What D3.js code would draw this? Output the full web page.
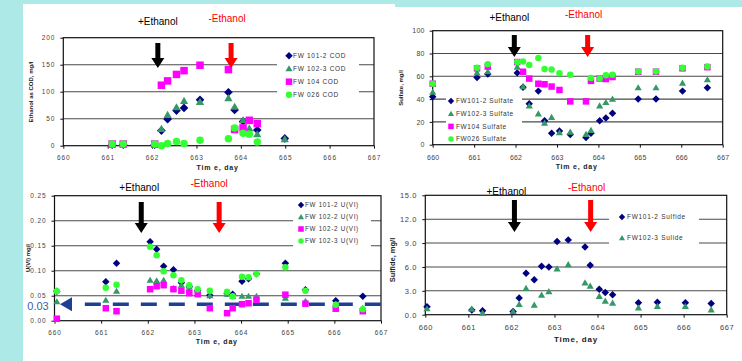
<!DOCTYPE html>
<html>
<head>
<meta charset="utf-8">
<script src="https://cdn.jsdelivr.net/npm/d3@7"></script>
<style>
  body { margin: 0; background: #fff; }
  svg { display: block; font-family: "Liberation Sans", Arial, sans-serif; }
</style>
</head>
<body>
<svg id="chart" width="742" height="361"></svg>
<script>
// ---- data ----
const xTicks = [660, 661, 662, 663, 664, 665, 666, 667];

// Ethanol as COD
const codDays = [661.1, 661.35, 662.06, 662.21, 662.35, 662.55, 662.72, 663.08, 663.72, 663.86, 664.05, 664.19, 664.37, 664.99];
const cod1012 = [2, 2, 2, 28, 49, 65, 70, 85, 99, 66, 45, null, 29, 13.5];
const cod1023 = [null, null, null, 31, 57, 71, 83, 81, 88, 72, 47, 32, 21, 12];
const cod104 = [3, 3, 3, 112, 120, 132, 139, 149, 141, 30, 33, 47, 41, null];
const cod026 = [3, 3, 3, 0, 4, 8, 4, 10, 13, 33, 23, 21, 7, null];
const codTicks = [0, 50, 100, 150, 200];

// Sulfate
const sulDays = [660.0, 661.07, 661.33, 662.04, 662.18, 662.33, 662.55, 662.7, 662.87, 663.06, 663.32, 663.7, 663.82, 664.03, 664.18, 664.34, 664.96, 665.39, 666.03, 666.63];
const sul1012 = [42, 59, 62, 63, 50.3, 36, 47, 21, 10, 12, 9, 6.4, 10, 21, 23.4, 27.5, 40, 40, 47, 50];
const sul1023 = [46, 63, 64, 68, 51, 34, 27, 19, 24, 10.5, 11, 9, 12.6, 34, 37, 40, 50, 50, 54, 57];
const sul104 = [53.5, 67, 68.5, 72.5, 64, 58, 53.5, 53, 51, 48, 38, 38, 56, 58, 57.6, 59.4, 64, 64, 67, 68];
const sul026 = [53.5, 67.5, 70.5, 72.5, 73, 70, 76, 66.4, 66, 62.6, 61.4, null, 58.5, 58, 61, 61.4, 64.3, 64.3, 67.5, 68.7];
const sulTicks = [0, 20, 40, 60, 80, 100];

// U(VI)
const uDays = [660.05, 661.1, 661.33, 662.05, 662.19, 662.34, 662.55, 662.72, 662.89, 663.07, 663.33, 663.7, 663.82, 664.02, 664.16, 664.33, 664.95, 665.38, 666.03, 666.61];
const u1012 = [0.059, 0.078, 0.115, 0.158, 0.143, 0.109, 0.102, 0.076, 0.068, 0.06, 0.051, 0.055, 0.053, 0.079, 0.084, 0.094, 0.115, 0.062, 0.04, 0.049];
const u1022tri = [0.038, 0.041, 0.059, 0.081, 0.08, 0.081, 0.065, 0.071, 0.067, 0.055, 0.05, 0.053, 0.049, 0.049, 0.049, 0.049, 0.045, 0.039, 0.033, 0.025];
const u1022sq = [0.004, 0.025, 0.019, 0.063, 0.069, 0.071, 0.063, 0.06, 0.055, 0.053, 0.025, 0.015, 0.025, 0.033, 0.035, 0.042, 0.052, 0.034, 0.024, 0.019];
const u1023 = [0.059, 0.066, 0.072, 0.148, 0.131, 0.099, 0.091, 0.081, 0.071, 0.063, 0.06, 0.058, 0.049, 0.088, 0.087, 0.094, 0.107, 0.06, 0.032, 0.023];
const uTicks = [0, 0.05, 0.10, 0.15, 0.20, 0.25];
const uLimit = 0.033;
const uLimitDays = [660.65, 667];

// Sulfide
const sfdDays = [660.04, 661.08, 661.33, 662.04, 662.18, 662.34, 662.53, 662.7, 662.87, 663.06, 663.32, 663.71, 663.83, 664.04, 664.18, 664.35, 664.95, 665.39, 666.04, 666.64];
const sfd1012 = [1.0, 0.6, 0.5, 0.4, 2.1, 5.2, 4.4, 6.1, 6.0, 9.2, 9.4, 8.5, 6.2, 3.2, 2.8, 2.5, 1.5, 1.55, 1.5, 1.4];
const sfd1023 = [0.75, 0.7, 0.2, 0.4, 1.3, 3.3, 1.2, 2.45, 2.9, 5.75, 6.3, 4.0, 3.6, 2.3, 1.7, 1.45, 0.85, 1.05, 1.05, 0.6];
const sfdTicks = [0, 3, 6, 9, 12, 15];

// ethanol on / off days per panel
const ethanolOn = [662.13, 661.97, 661.86, 662.07];
const ethanolOff = [663.78, 663.74, 663.53, 663.84];

// ---- styles ----
const NAVY = "#000080", SEA = "#339966", MAG = "#ff00ff", LIME = "#33ff33";

const svg = d3.select("#chart");

// background frame (slide)
svg.append("rect").attr("width", 742).attr("height", 361).attr("fill", "#fff");
svg.append("rect").attr("width", 23).attr("height", 361).attr("fill", "#ade9e6");
svg.append("rect").attr("width", 395).attr("height", 4).attr("fill", "#ade9e6");
svg.append("rect").attr("x", 395).attr("width", 347).attr("height", 7).attr("fill", "#ade9e6");

function marker(g, type, size, color) {
  const h = size / 2;
  if (type === "diamond") {
    const r = h * 1.15;
    g.append("path").attr("d", `M0,${-r} L${r},0 L0,${r} L${-r},0 Z`).attr("fill", color);
  } else if (type === "triangle") {
    g.append("path").attr("d", `M0,${-h * 1.1} L${h * 1.1},${h * 0.8} L${-h * 1.1},${h * 0.8} Z`).attr("fill", color);
  } else if (type === "square") {
    g.append("rect").attr("x", -h).attr("y", -h).attr("width", size).attr("height", size).attr("fill", color);
  } else {
    g.append("circle").attr("r", h).attr("fill", color);
  }
}

function arrow(g, x, y1, y2, color) {
  g.append("path")
    .attr("d", `M${x - 2.5},${y1} H${x + 2.5} V${y2 - 10} H${x + 6.5} L${x},${y2} L${x - 6.5},${y2 - 10} H${x - 2.5} Z`)
    .attr("fill", color);
}

function panel(cfg) {
  const x = d3.scaleLinear().domain([660, 667]).range(cfg.xr);
  const y = d3.scaleLinear().domain([cfg.yTicks[0], cfg.yTicks[cfg.yTicks.length - 1]]).range(cfg.yr);
  const g = svg.append("g");
  const fs = cfg.fs || 6.5;

  // gridlines
  g.selectAll(".grid").data(cfg.yTicks.slice(1, -1)).join("line")
    .attr("x1", cfg.xr[0]).attr("x2", cfg.xr[1])
    .attr("y1", d => y(d)).attr("y2", d => y(d))
    .attr("stroke", "#4a4a4a").attr("stroke-width", 1.1);

  // legend box hides grid
  const lg = cfg.legend;
  g.append("rect").attr("x", lg.box[0]).attr("y", lg.box[1]).attr("width", lg.box[2]).attr("height", lg.box[3]).attr("fill", "#fff");

  // frame
  g.append("rect").attr("x", cfg.xr[0]).attr("y", cfg.yr[1])
    .attr("width", cfg.xr[1] - cfg.xr[0]).attr("height", cfg.yr[0] - cfg.yr[1])
    .attr("fill", "none").attr("stroke", "#111").attr("stroke-width", 1.2);

  // axes
  const xa = g.append("g").attr("transform", `translate(0,${cfg.yr[0]})`)
    .call(d3.axisBottom(x).tickValues(xTicks).tickSize(3).tickFormat(d3.format("d")));
  const ya = g.append("g").attr("transform", `translate(${cfg.xr[0]},0)`)
    .call(d3.axisLeft(y).tickValues(cfg.yTicks).tickSize(3).tickFormat(cfg.yFmt));
  [xa, ya].forEach(a => {
    a.select(".domain").remove();
    a.selectAll("line").attr("stroke", "#111");
    a.selectAll("text").attr("font-size", fs).attr("fill", "#444")
      .attr("letter-spacing", cfg.ls == null ? 0.9 : cfg.ls).attr("font-family", "'Liberation Sans', Arial, sans-serif");
  });
  xa.selectAll("text").attr("dy", cfg.xdy || "1.3em");
  ya.selectAll("text").attr("dx", "-0.3em");

  // axis titles
  g.append("text").attr("x", (cfg.xr[0] + cfg.xr[1]) / 2 + (cfg.xtdx || 0)).attr("y", cfg.xtY)
    .attr("text-anchor", "middle").attr("font-size", cfg.tfs || 7).attr("font-weight", "bold")
    .attr("letter-spacing", 0.8).attr("fill", "#222").text(cfg.xTitle);
  g.append("text").attr("transform", `translate(${cfg.ytX},${cfg.ytY}) rotate(-90)`)
    .attr("text-anchor", "middle").attr("font-size", cfg.ytfs || 6).attr("font-weight", "bold")
    .attr("fill", "#222").text(cfg.yTitle);

  // extra (reference line)
  if (cfg.extra) cfg.extra(g, x, y);

  // series
  cfg.series.forEach(s => {
    const pts = cfg.days.map((d, i) => ({ d, v: s.values[i] })).filter(p => p.v != null);
    g.append("g").selectAll("g").data(pts).join("g")
      .attr("transform", p => `translate(${x(p.d)},${y(p.v)})`)
      .each(function () { marker(d3.select(this), s.type, cfg.ms, s.color); });
  });

  // legend entries
  cfg.series.forEach((s, i) => {
    const ly = lg.y0 + i * lg.dy;
    marker(g.append("g").attr("transform", `translate(${lg.mx},${ly})`), s.type, cfg.ms - 1, s.color);
    g.append("text").attr("x", lg.tx).attr("y", ly).attr("dy", "0.35em")
      .attr("font-size", lg.fs || 6.5).attr("letter-spacing", lg.ls == null ? 0.7 : lg.ls).attr("fill", "#333").text(s.name);
  });

  // ethanol arrows and labels
  arrow(g, x(cfg.on), cfg.arr[0], cfg.arr[1], "#000");
  arrow(g, x(cfg.off), cfg.arr[0], cfg.arr[1], "#ff0000");
  g.append("text").attr("x", x(cfg.on) + cfg.lab[0]).attr("y", cfg.lab[1]).attr("text-anchor", "middle")
    .attr("font-size", 10).attr("fill", "#000").text("+Ethanol");
  g.append("text").attr("x", x(cfg.off) + cfg.lab[2]).attr("y", cfg.lab[3]).attr("text-anchor", "middle")
    .attr("font-size", 10).attr("fill", "#ff0000").text("-Ethanol");
}

panel({
  xr: [63.3, 374], yr: [145.7, 37.7], yTicks: codTicks, yFmt: d3.format("d"),
  days: codDays, ms: 7.5,
  series: [
    { name: "FW 101-2 COD", values: cod1012, type: "diamond", color: NAVY },
    { name: "FW 102-3 COD", values: cod1023, type: "triangle", color: SEA },
    { name: "FW 104 COD", values: cod104, type: "square", color: MAG },
    { name: "FW 026 COD", values: cod026, type: "circle", color: LIME }
  ],
  legend: { box: [277, 48, 82, 54], y0: 55.7, dy: 13, mx: 289, tx: 293 },
  xTitle: "Tim e, day", xtY: 170, xtdx: -1,
  yTitle: "Ethanol as COD, mg/l", ytX: 33, ytY: 92,
  on: ethanolOn[0], off: ethanolOff[0], arr: [43, 68], lab: [0, 25, -4, 22]
});

panel({
  xr: [432.7, 722.7], yr: [144.7, 30.7], yTicks: sulTicks, yFmt: d3.format("d"),
  days: sulDays, ms: 6.5, ls: 0.2, fs: 7,
  series: [
    { name: "FW101-2 Sulfate", values: sul1012, type: "diamond", color: NAVY },
    { name: "FW102-3 Sulfate", values: sul1023, type: "triangle", color: SEA },
    { name: "FW104 Sulfate", values: sul104, type: "square", color: MAG },
    { name: "FW026 Sulfate", values: sul026, type: "circle", color: LIME }
  ],
  legend: { box: [446, 95, 76, 48], y0: 101, dy: 12.7, mx: 451, tx: 456, fs: 6.5, ls: 0.6 },
  xTitle: "Tim e, day", xtY: 169, xtdx: -1,
  yTitle: "Sulfate, mg/l", ytX: 403, ytY: 88,
  on: ethanolOn[1], off: ethanolOff[1], arr: [35, 57], lab: [-5, 21, -4, 18]
});

panel({
  xr: [54.5, 381], yr: [320.7, 195.7], yTicks: uTicks, yFmt: d3.format(".2f"),
  days: uDays, ms: 6.5,
  series: [
    { name: "FW 101-2 U(VI)", values: u1012, type: "diamond", color: NAVY },
    { name: "FW 102-2 U(VI)", values: u1022tri, type: "triangle", color: SEA },
    { name: "FW 102-2 U(VI)", values: u1022sq, type: "square", color: MAG },
    { name: "FW 102-3 U(VI)", values: u1023, type: "circle", color: LIME }
  ],
  legend: { box: [293, 199, 78, 49], y0: 205, dy: 12, mx: 301, tx: 305, fs: 6.3 },
  xTitle: "Tim e, day", xtY: 344, xtdx: -1,
  yTitle: "U(VI) mg/l", ytX: 30, ytY: 258,
  on: ethanolOn[2], off: ethanolOff[2], arr: [202, 233], lab: [-2, 191, -10, 187],
  extra: (g, x, y) => {
    g.append("line").attr("x1", x(uLimitDays[0])).attr("x2", x(uLimitDays[1]))
      .attr("y1", y(uLimit)).attr("y2", y(uLimit))
      .attr("stroke", "#1f3f95").attr("stroke-width", 3.5).attr("stroke-dasharray", "16,12");
    g.append("path").attr("d", `M60,${y(uLimit)} L72,${y(uLimit) - 7} L72,${y(uLimit) + 7} Z`).attr("fill", "#1f3f95");
    g.append("text").attr("x", 38).attr("y", y(uLimit) + 6).attr("text-anchor", "middle")
      .attr("font-size", 11).attr("fill", "#3a5fb0").attr("font-family", "'Liberation Sans Narrow', 'Liberation Sans', sans-serif")
      .text("0.03");
  }
});

panel({
  xr: [425.3, 726.7], yr: [314.7, 195.3], yTicks: sfdTicks, yFmt: d3.format(".1f"),
  days: sfdDays, ms: 6.5, fs: 7.5, ls: 0.6, xdy: "1.2em",
  series: [
    { name: "FW101-2 Sulfide", values: sfd1012, type: "diamond", color: NAVY },
    { name: "FW102-3 Sulide", values: sfd1023, type: "triangle", color: SEA }
  ],
  legend: { box: [609, 207, 90, 38], y0: 217, dy: 21, mx: 622, tx: 627, fs: 6.5 },
  xTitle: "Time, day", xtY: 342, tfs: 8,
  yTitle: "Sulfide, mg/l", ytX: 395, ytY: 260, ytfs: 7.5,
  on: ethanolOn[3], off: ethanolOff[3], arr: [200, 232], lab: [-8, 195, -4, 191]
});
</script>
</body>
</html>
